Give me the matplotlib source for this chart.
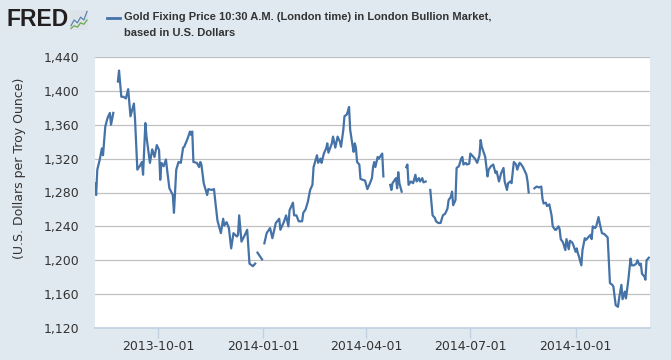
"""FRED-style chart: Gold Fixing Price 10:30 A.M. (London), Aug 2013 - Dec 2014."""

import matplotlib
matplotlib.use("Agg")  # Non-interactive backend
import matplotlib.pyplot as plt
from matplotlib.lines import Line2D
from matplotlib.ticker import FuncFormatter
import numpy as np
import pandas as pd

nan = np.nan

# Daily fixing prices (NaN = no fixing / gap in the line)
dates = [
    "2013-08-07", "2013-08-08", "2013-08-09", "2013-08-11", "2013-08-13", "2013-08-14",
    "2013-08-16", "2013-08-18", "2013-08-20", "2013-08-21", "2013-08-23", "2013-08-25",
    "2013-08-27", "2013-08-28", "2013-08-30", "2013-09-01", "2013-09-03", "2013-09-05",
    "2013-09-07", "2013-09-10", "2013-09-11", "2013-09-13", "2013-09-15", "2013-09-17",
    "2013-09-18", "2013-09-20", "2013-09-21", "2013-09-24", "2013-09-26", "2013-09-28",
    "2013-09-30", "2013-10-02", "2013-10-03", "2013-10-04", "2013-10-06", "2013-10-08",
    "2013-10-09", "2013-10-11", "2013-10-14", "2013-10-15", "2013-10-17", "2013-10-19",
    "2013-10-21", "2013-10-23", "2013-10-24", "2013-10-27", "2013-10-29", "2013-10-30",
    "2013-10-31", "2013-11-01", "2013-11-04", "2013-11-06", "2013-11-07", "2013-11-08",
    "2013-11-10", "2013-11-13", "2013-11-14", "2013-11-17", "2013-11-19", "2013-11-20",
    "2013-11-22", "2013-11-25", "2013-11-27", "2013-11-28", "2013-11-30", "2013-12-02",
    "2013-12-04", "2013-12-06", "2013-12-09", "2013-12-10", "2013-12-11", "2013-12-13",
    "2013-12-16", "2013-12-18", "2013-12-20", "2013-12-23", "2013-12-25", "2013-12-26",
    "2013-12-27", "2013-12-31", "2014-01-01", "2014-01-02", "2014-01-04", "2014-01-07",
    "2014-01-09", "2014-01-12", "2014-01-15", "2014-01-16", "2014-01-19", "2014-01-21",
    "2014-01-23", "2014-01-24", "2014-01-27", "2014-01-28", "2014-01-30", "2014-02-01",
    "2014-02-04", "2014-02-05", "2014-02-07", "2014-02-09", "2014-02-11", "2014-02-13",
    "2014-02-14", "2014-02-17", "2014-02-18", "2014-02-20", "2014-02-21", "2014-02-23",
    "2014-02-25", "2014-02-26", "2014-02-27", "2014-03-02", "2014-03-03", "2014-03-05",
    "2014-03-07", "2014-03-09", "2014-03-10", "2014-03-12", "2014-03-13", "2014-03-15",
    "2014-03-16", "2014-03-17", "2014-03-18", "2014-03-20", "2014-03-21", "2014-03-22",
    "2014-03-23", "2014-03-24", "2014-03-26", "2014-03-27", "2014-03-29", "2014-03-31",
    "2014-04-02", "2014-04-04", "2014-04-06", "2014-04-07", "2014-04-08", "2014-04-09",
    "2014-04-11", "2014-04-12", "2014-04-15", "2014-04-16", "2014-04-18", "2014-04-22",
    "2014-04-23", "2014-04-24", "2014-04-27", "2014-04-28", "2014-04-29", "2014-04-30",
    "2014-05-02", "2014-05-04", "2014-05-06", "2014-05-07", "2014-05-08", "2014-05-10",
    "2014-05-12", "2014-05-14", "2014-05-15", "2014-05-17", "2014-05-18", "2014-05-20",
    "2014-05-21", "2014-05-23", "2014-05-25", "2014-05-27", "2014-05-29", "2014-05-31",
    "2014-06-01", "2014-06-03", "2014-06-05", "2014-06-07", "2014-06-09", "2014-06-11",
    "2014-06-12", "2014-06-14", "2014-06-15", "2014-06-16", "2014-06-18", "2014-06-19",
    "2014-06-21", "2014-06-23", "2014-06-24", "2014-06-25", "2014-06-27", "2014-06-28",
    "2014-06-30", "2014-07-01", "2014-07-03", "2014-07-05", "2014-07-07", "2014-07-09",
    "2014-07-10", "2014-07-11", "2014-07-14", "2014-07-16", "2014-07-17", "2014-07-19",
    "2014-07-21", "2014-07-23", "2014-07-24", "2014-07-26", "2014-07-28", "2014-07-30",
    "2014-07-31", "2014-08-02", "2014-08-03", "2014-08-05", "2014-08-06", "2014-08-08",
    "2014-08-10", "2014-08-11", "2014-08-13", "2014-08-14", "2014-08-16", "2014-08-19",
    "2014-08-20", "2014-08-21", "2014-08-23", "2014-08-26", "2014-08-28", "2014-08-30",
    "2014-09-01", "2014-09-02", "2014-09-03", "2014-09-05", "2014-09-06", "2014-09-08",
    "2014-09-10", "2014-09-11", "2014-09-13", "2014-09-14", "2014-09-16", "2014-09-17",
    "2014-09-18", "2014-09-20", "2014-09-22", "2014-09-23", "2014-09-25", "2014-09-26",
    "2014-09-28", "2014-09-29", "2014-10-01", "2014-10-02", "2014-10-03", "2014-10-04",
    "2014-10-06", "2014-10-07", "2014-10-09", "2014-10-10", "2014-10-12", "2014-10-14",
    "2014-10-15", "2014-10-16", "2014-10-18", "2014-10-19", "2014-10-21", "2014-10-22",
    "2014-10-24", "2014-10-26", "2014-10-29", "2014-10-31", "2014-11-02", "2014-11-03",
    "2014-11-05", "2014-11-07", "2014-11-08", "2014-11-10", "2014-11-11", "2014-11-13",
    "2014-11-14", "2014-11-16", "2014-11-18", "2014-11-19", "2014-11-21", "2014-11-23",
    "2014-11-24", "2014-11-26", "2014-11-27", "2014-11-28", "2014-11-30", "2014-12-01",
    "2014-12-02", "2014-12-04",
]
prices = [
    1291, 1277, 1307, 1318, 1332, 1324,
    1358, 1368, 1374, 1360, 1374, nan,
    1411, 1424, 1393, 1393, 1391, 1402,
    1370, 1385, 1366, 1307, 1311, 1316,
    1301, 1362, 1346, 1315, 1331, 1322,
    1336, 1330, 1295, 1315, 1311, 1319,
    1307, 1285, 1277, 1256, 1307, 1316,
    1315, 1333, 1334, 1344, 1352, 1348,
    1352, 1316, 1315, 1310, 1316, 1313,
    1291, 1277, 1284, 1283, 1284, 1271,
    1247, 1232, 1249, 1241, 1245, 1238,
    1214, 1232, 1228, 1230, 1253, 1222,
    1230, 1236, 1196, 1193, 1196, nan,
    1209, 1201, nan, 1220, 1232, 1238,
    1226, 1244, 1249, 1236, 1245, 1253,
    1240, 1259, 1268, 1253, 1253, 1246,
    1246, 1256, 1260, 1269, 1283, 1289,
    1310, 1324, 1315, 1320, 1315, 1326,
    1332, 1338, 1327, 1338, 1346, 1333,
    1346, 1340, 1334, 1354, 1370, 1372,
    1376, 1381, 1354, 1336, 1328, 1338,
    1333, 1316, 1313, 1296, 1295, 1294,
    1284, 1290, 1297, 1310, 1316, 1310,
    1322, 1320, 1326, 1299, nan, 1289,
    1283, 1291, 1297, 1285, 1304, 1291,
    1281, nan, 1310, 1313, 1289, 1293,
    1291, 1301, 1293, 1297, 1293, 1297,
    1292, 1293, nan, 1283, 1253, 1250,
    1246, 1244, 1244, 1253, 1255, 1261,
    1271, 1275, 1281, 1265, 1271, 1309,
    1311, 1320, 1322, 1313, 1315, 1313,
    1314, 1326, 1323, 1320, 1315, 1324,
    1342, 1334, 1322, 1299, 1307, 1311,
    1313, 1303, 1305, 1293, 1303, 1309,
    1293, 1283, 1291, 1293, 1291, 1316,
    1313, 1307, 1315, 1314, 1310, 1301,
    1293, 1280, nan, 1285, 1287, 1286,
    1287, 1273, 1267, 1268, 1264, 1266,
    1253, 1240, 1236, 1236, 1240, 1237,
    1225, 1221, 1212, 1225, 1213, 1223,
    1221, 1218, 1210, 1214, 1208, 1204,
    1194, 1212, 1226, 1224, 1227, 1230,
    1225, 1240, 1238, 1240, 1251, 1244,
    1232, 1231, 1227, 1173, 1171, 1169,
    1147, 1145, 1155, 1171, 1154, 1163,
    1155, 1176, 1202, 1194, 1194, 1196,
    1200, 1194, 1196, 1184, 1181, 1177,
    1200, 1203,
]

x_start, x_end = "2013-08-07", "2014-12-05"
x_tick_dates = ["2013-10-01", "2014-01-01", "2014-04-01", "2014-07-01", "2014-10-01"]
y_ticks = [1120, 1160, 1200, 1240, 1280, 1320, 1360, 1400, 1440]

series_label = "Gold Fixing Price 10:30 A.M. (London time) in London Bullion Market,"
series_label2 = "based in U.S. Dollars"
y_label = "(U.S. Dollars per Troy Ounce)"

BG = "#e1e9f0"
LINE = "#4572a7"
TEXT = "#333333"
AXIS = "#c0d0e0"
HEAD_FONT = ["Liberation Sans", "DejaVu Sans"]

W, H = 671, 360
fig = plt.figure(figsize=(W / 100, H / 100), dpi=100, facecolor=BG)

# plot area in pixel terms: x 95..650, y 57..328
ax = fig.add_axes([95 / W, 1 - 328 / H, 555 / W, 271 / H])
ax.set_facecolor("white")

ax.plot(pd.to_datetime(dates), prices, color=LINE, linewidth=1.6, solid_joinstyle="round")

ax.set_xlim(pd.Timestamp(x_start), pd.Timestamp(x_end))
ax.set_ylim(y_ticks[0], y_ticks[-1])
ax.set_yticks(y_ticks)
ax.yaxis.set_major_formatter(FuncFormatter(lambda v, p: f"{v:,.0f}"))
ax.set_xticks(pd.to_datetime(x_tick_dates))
ax.set_xticklabels(x_tick_dates)

ax.grid(axis="y", color="#c0c0c0", linewidth=0.9)
ax.set_axisbelow(True)
for side in ("top", "right", "left"):
    ax.spines[side].set_visible(False)
ax.spines["bottom"].set_color(AXIS)
ax.spines["bottom"].set_linewidth(1.2)

ax.tick_params(axis="x", length=7, width=1, color=AXIS, labelsize=9, labelcolor=TEXT, pad=2)
ax.tick_params(axis="y", length=0, labelsize=9, labelcolor=TEXT, pad=11)

fig.text(20 / W, 1 - 168 / H, y_label, rotation=90, ha="center", va="center",
         fontsize=9, color=TEXT)

# FRED logo
fig.text(7 / W, 1 - 19 / H, "FRED", ha="left", va="center", fontsize=16.5,
         fontweight="bold", color="#231f20", family=HEAD_FONT)
icon = fig.add_axes([70 / W, 1 - 30 / H, 18 / W, 20 / H])
icon.set_facecolor("#dde3e8")
icon.plot([0, 1, 2, 3, 4, 5], [1, 3, 2, 4, 3, 6], color="#5b84b1", lw=0.9)
icon.plot([0, 1, 2, 3, 4, 5], [0, 1, 0.5, 2, 1.5, 3], color="#6aa84f", lw=0.9)
icon.set_xlim(-0.3, 5.3)
icon.set_ylim(-0.5, 6.5)
icon.set_xticks([])
icon.set_yticks([])
for s in icon.spines.values():
    s.set_visible(False)

# legend entry
fig.add_artist(Line2D([107 / W, 120 / W], [1 - 18 / H, 1 - 18 / H], color=LINE, linewidth=2))
fig.text(124 / W, 1 - 17.5 / H, series_label, ha="left", va="center", fontsize=8,
         fontweight="bold", color=TEXT, family=HEAD_FONT)
fig.text(124 / W, 1 - 32.5 / H, series_label2, ha="left", va="center", fontsize=8,
         fontweight="bold", color=TEXT, family=HEAD_FONT)

fig.savefig("out.png", dpi=100, facecolor=BG)
